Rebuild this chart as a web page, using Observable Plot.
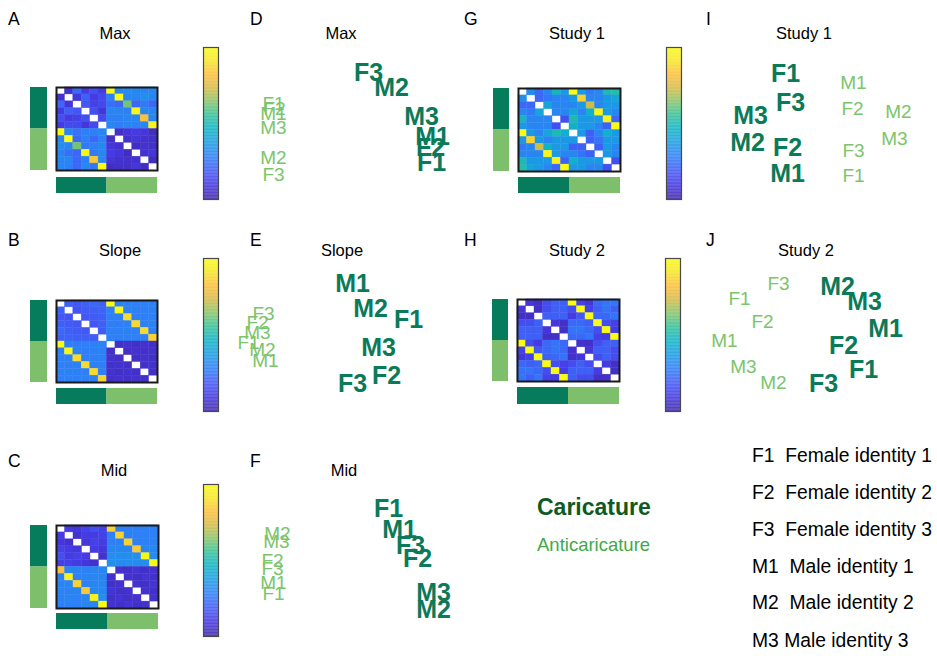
<!DOCTYPE html>
<html><head><meta charset="utf-8">
<script src="https://cdn.jsdelivr.net/npm/d3@7"></script>
<script src="https://cdn.jsdelivr.net/npm/@observablehq/plot@0.6"></script>
<style>
body{margin:0;background:#fff;font-family:Arial,"Liberation Sans",sans-serif;}
#fig{position:relative;width:937px;height:656px;overflow:hidden;background:#fff;}
.txt{position:absolute;white-space:pre;line-height:1;color:#000;}
svg{overflow:visible;}
</style></head><body><div id="fig"></div><script>
// ---------------- data ----------------
const identities = ["F1","F2","F3","M1","M2","M3"];
const conditionNames = ["Caricature","Anticaricature"];
const identityNames = ["Female identity 1","Female identity 2","Female identity 3","Male identity 1","Male identity 2","Male identity 3"];
const panelLetters = ["A","B","C","D","E","F","G","H","I","J"];
const panelTitles = ["Max","Slope","Mid","Max","Slope","Mid","Study 1","Study 2","Study 1","Study 2"];

const maxMatrix = [
 [null,.06,.22,.10,.16,.10, 1.0,.30,.32,.30,.30,.30],
 [.06,null,.08,.20,.10,.14, .28,1.0,.30,.30,.33,.30],
 [.22,.08,null,.18,.12,.14, .24,.22,.62,.22,.26,.22],
 [.10,.20,.18,null,.16,.08, .30,.30,.28,.98,.30,.30],
 [.16,.10,.12,.16,null,.14, .28,.28,.30,.30,.82,.30],
 [.10,.14,.14,.08,.14,null, .30,.28,.30,.28,.30,.98],
 [1.0,.30,.25,.28,.28,.30, null,.05,.08,.10,.08,.04],
 [.30,1.0,.22,.28,.22,.28, .05,null,.06,.08,.06,.05],
 [.32,.30,.62,.26,.28,.30, .08,.06,null,.04,.06,.05],
 [.28,.24,.22,.98,.26,.30, .10,.08,.04,null,.06,.08],
 [.30,.30,.22,.28,.84,.30, .08,.06,.06,.06,null,.04],
 [.30,.28,.22,.30,.26,1.0, .04,.05,.05,.08,.04,null]
];
const slopeMatrix = [
 [null,.20,.18,.20,.22,.20, 1.0,.28,.28,.28,.28,.28],
 [.20,null,.17,.19,.20,.21, .28,.98,.28,.28,.28,.28],
 [.18,.17,null,.18,.19,.20, .28,.28,.88,.28,.28,.28],
 [.20,.19,.18,null,.18,.20, .27,.27,.28,.88,.28,.28],
 [.22,.20,.19,.18,null,.19, .28,.28,.28,.28,.88,.28],
 [.20,.21,.20,.20,.19,null, .28,.28,.28,.28,.28,.86],
 [1.0,.28,.27,.28,.28,.28, null,.05,.06,.05,.06,.05],
 [.28,.98,.28,.27,.28,.28, .05,null,.05,.06,.05,.06],
 [.28,.28,.88,.28,.28,.28, .06,.05,null,.05,.06,.05],
 [.28,.28,.28,.88,.28,.28, .05,.06,.05,null,.05,.06],
 [.28,.28,.28,.28,.88,.28, .06,.05,.06,.05,null,.05],
 [.28,.28,.28,.28,.28,.86, .05,.06,.05,.06,.05,null]
];
const midMatrix = [
 [null,.10,.08,.12,.16,.12, .86,.28,.28,.28,.28,.28],
 [.10,null,.06,.10,.10,.12, .28,.86,.28,.28,.28,.28],
 [.08,.06,null,.08,.12,.10, .28,.28,.86,.28,.28,.28],
 [.12,.10,.08,null,.10,.08, .30,.30,.30,.84,.30,.30],
 [.16,.10,.12,.10,null,.06, .32,.32,.32,.32,.98,.32],
 [.12,.12,.10,.08,.06,null, .32,.32,.32,.32,.32,1.0],
 [.82,.30,.30,.28,.30,.30, null,.06,.05,.07,.05,.06],
 [.28,.95,.28,.30,.30,.30, .06,null,.06,.05,.07,.05],
 [.28,.30,.86,.28,.30,.30, .05,.06,null,.06,.05,.07],
 [.30,.28,.30,.84,.30,.30, .07,.05,.06,null,.06,.05],
 [.28,.30,.28,.30,.96,.32, .05,.07,.05,.06,null,.06],
 [.28,.28,.28,.30,.30,1.0, .06,.05,.07,.05,.06,null]
];
const study1Matrix = [
 [null,.32,.22,.30,.48,.36, 1.0,.36,.26,.30,.50,.52],
 [.32,null,.22,.26,.30,.30, .36,.86,.30,.30,.36,.40],
 [.22,.22,null,.40,.30,.30, .30,.36,.72,.30,.36,.36],
 [.30,.26,.40,null,.30,.30, .40,.30,.45,.98,.36,.30],
 [.48,.30,.30,.30,null,.16, .50,.36,.36,.36,.96,.22],
 [.36,.30,.30,.30,.16,null, .45,.36,.36,.30,.20,1.0],
 [1.0,.36,.30,.40,.50,.45, null,.36,.20,.30,.45,.36],
 [.36,.86,.36,.30,.36,.36, .36,null,.20,.25,.36,.36],
 [.26,.30,.72,.45,.36,.36, .20,.20,null,.20,.36,.30],
 [.30,.30,.30,.98,.36,.30, .30,.25,.20,null,.36,.30],
 [.50,.36,.36,.36,.96,.20, .45,.36,.36,.36,null,.16],
 [.52,.40,.36,.30,.22,1.0, .36,.36,.30,.30,.16,null]
];
const study2Matrix = [
 [null,.08,.05,.15,.20,.20, 1.0,.12,.08,.22,.25,.25],
 [.08,null,.05,.15,.20,.20, .15,1.0,.12,.20,.25,.20],
 [.05,.05,null,.20,.20,.20, .10,.18,1.0,.22,.22,.25],
 [.15,.15,.20,null,.08,.05, .22,.22,.20,1.0,.15,.12],
 [.20,.20,.20,.08,null,.05, .25,.25,.22,.15,1.0,.10],
 [.20,.20,.20,.05,.05,null, .22,.22,.25,.12,.10,1.0],
 [1.0,.15,.10,.22,.25,.22, null,.06,.05,.15,.20,.20],
 [.12,1.0,.18,.22,.25,.22, .06,null,.08,.20,.20,.15],
 [.08,.12,1.0,.20,.22,.25, .05,.08,null,.15,.20,.15],
 [.22,.20,.22,1.0,.15,.12, .15,.20,.15,null,.10,.05],
 [.25,.25,.22,.15,1.0,.10, .20,.20,.20,.10,null,.05],
 [.25,.20,.25,.12,.10,1.0, .20,.15,.15,.05,.05,null]
];

// MDS coordinates (panel units, y downward), order F1,F2,F3,M1,M2,M3
const mdsMaxCarX = [191,190,128,192,151,181], mdsMaxCarY = [112,97,22,86,37,66];
const mdsMaxAntiX = [33,34,33,33,33,33],     mdsMaxAntiY = [53,58,124,63,107,77];
const mdsSlopeCarX = [168,146,112,112,130,138], mdsSlopeCarY = [59,115,123,23,48,87];
const mdsSlopeAntiX = [8,17,23,25,22,17],      mdsSlopeAntiY = [82,62,53,100,89,72];
const mdsMidCarX = [148,177,170,159,193,193],  mdsMidCarY = [28,78,65,49,129,112];
const mdsMidAntiX = [33,32,32,33,37,36],       mdsMidAntiY = [113,80,88,102,53,61];
const mdsS1CarX = [85,87,90,87,47,50],         mdsS1CarY = [23,97,52,123,92,65];
const mdsS1AntiX = [153,152,153,153,198,194],  mdsS1AntiY = [125,58,100,32,61,88];
const mdsS2CarX = [163,143,123,185,137,164],   mdsS2CarY = [109,85,123,68,26,41];
const mdsS2AntiX = [39,62,78,24,73,43],        mdsS2AntiY = [38,61,23,80,122,106];

// ---------------- style ----------------
const PARULA = ["#3e26a8","#4538e0","#4358f5","#2f7ef7","#1b9ae4","#0fb2c8","#2fc09c","#84c46a","#d4ba46","#fcbf3a","#f5e626","#f9fb15"];
const parula = d3.piecewise(d3.interpolateRgb, PARULA);
const BAR_DARK = "#077c5c", BAR_LIGHT = "#7dbf6a";
const TXT_DARK = "#0b7a58", TXT_LIGHT = "#7cc46b";
const FONT = 'Arial, "Liberation Sans", sans-serif';
const fig = document.getElementById("fig");

function put(node, left, top) {
  node.style.position = "absolute"; node.style.left = left + "px"; node.style.top = top + "px";
  fig.appendChild(node);
}
function txt(s, x, cy, size, opts = {}) {
  const d = document.createElement("div");
  d.className = "txt"; d.textContent = s; d.style.fontSize = size + "px";
  if (opts.weight) d.style.fontWeight = opts.weight;
  if (opts.color) d.style.color = opts.color;
  d.style.left = x + "px"; d.style.top = (cy - 0.49 * size) + "px";
  if (opts.center) d.style.transform = "translateX(-50%)";
  fig.appendChild(d);
}

function matrixPlot(M, w, h) {
  const cells = [];
  M.forEach((row, r) => row.forEach((v, c) => { if (v != null) cells.push({r, c, v}); }));
  const idx = d3.range(M.length);
  return Plot.plot({
    width: w + 2, height: h + 2, margin: 1,
    style: {background: "white"},
    x: {type: "band", domain: idx, axis: null, padding: 0, round: false},
    y: {type: "band", domain: idx, axis: null, padding: 0, round: false},
    color: {type: "linear", domain: [0, 1], interpolate: parula},
    marks: [
      Plot.cell(cells, {x: "c", y: "r", fill: "v", stroke: "v", strokeWidth: 0.4, inset: 0}),
      Plot.frame({stroke: "#1a1a1a", strokeWidth: 2})
    ]
  });
}
function groupBar(w, h, vertical) {
  const ch = vertical ? {y: d => d} : {x: d => d};
  return Plot.plot({
    width: w, height: h, margin: 0,
    x: {type: "band", domain: conditionNames, axis: null, padding: 0, round: false},
    y: {type: "band", domain: conditionNames, axis: null, padding: 0, round: false},
    color: {domain: conditionNames, range: [BAR_DARK, BAR_LIGHT]},
    marks: [Plot.cell(conditionNames, {...ch, fill: d => d, inset: 0})]
  });
}
const ramp = d3.range(0, 1, 0.005);
function colorbar(w, h) {
  return Plot.plot({
    width: w + 2, height: h + 2, margin: 1,
    y: {domain: [0, 1], axis: null},
    color: {type: "linear", domain: [0, 1], interpolate: parula},
    marks: [
      Plot.rect(ramp, {y1: d => d, y2: d => Math.min(1, d + 0.0055), fill: d => d}),
      Plot.frame({stroke: "#4a4a4a", strokeWidth: 1.2})
    ]
  });
}
function mdsPlot(w, h, carX, carY, antiX, antiY) {
  const car = identities.map((id, i) => ({id, x: carX[i], y: carY[i]}));
  const anti = identities.map((id, i) => ({id, x: antiX[i], y: antiY[i]}));
  return Plot.plot({
    width: w, height: h, margin: 0,
    style: {fontFamily: FONT, overflow: "visible", background: "transparent"},
    x: {domain: [0, w], axis: null},
    y: {domain: [0, h], reverse: true, axis: null},
    marks: [
      Plot.text(anti, {x: "x", y: "y", text: "id", fill: TXT_LIGHT, fontSize: 19}),
      Plot.text(car, {x: "x", y: "y", text: "id", fill: TXT_DARK, fontSize: 25, fontWeight: "bold"})
    ]
  });
}

// ---------------- matrix panels ----------------
const matPanels = [
  {M: maxMatrix,    lb: [30, 87, 17, 83],  mx: [56, 87, 101, 83],  bb: [56, 177, 101, 16], cb: [203, 47, 15, 152]},
  {M: slopeMatrix,  lb: [30, 300, 17, 82], mx: [56, 300, 101, 82], bb: [56, 388, 101, 16], cb: [203, 258, 15, 153]},
  {M: midMatrix,    lb: [30, 525, 17, 83], mx: [56, 525, 102, 83], bb: [56, 613, 102, 16], cb: [203, 484, 15, 152]},
  {M: study1Matrix, lb: [493, 88, 16, 83], mx: [518, 88, 102, 83], bb: [518, 177, 102, 16], cb: [666, 47, 15, 152]},
  {M: study2Matrix, lb: [492, 299, 16, 82],mx: [517, 299, 102, 82],bb: [517, 387, 102, 17], cb: [665, 258, 15, 153]}
];
for (const p of matPanels) {
  put(groupBar(p.lb[2], p.lb[3], true), p.lb[0], p.lb[1]);
  put(matrixPlot(p.M, p.mx[2], p.mx[3]), p.mx[0] - 1, p.mx[1] - 1);
  put(groupBar(p.bb[2], p.bb[3], false), p.bb[0], p.bb[1]);
  put(colorbar(p.cb[2], p.cb[3]), p.cb[0] - 1, p.cb[1] - 1);
}

// ---------------- MDS panels ----------------
put(mdsPlot(220, 150, mdsMaxCarX, mdsMaxCarY, mdsMaxAntiX, mdsMaxAntiY), 240, 50);
put(mdsPlot(220, 150, mdsSlopeCarX, mdsSlopeCarY, mdsSlopeAntiX, mdsSlopeAntiY), 240, 260);
put(mdsPlot(220, 160, mdsMidCarX, mdsMidCarY, mdsMidAntiX, mdsMidAntiY), 240, 480);
put(mdsPlot(230, 150, mdsS1CarX, mdsS1CarY, mdsS1AntiX, mdsS1AntiY), 700, 50);
put(mdsPlot(220, 150, mdsS2CarX, mdsS2CarY, mdsS2AntiX, mdsS2AntiY), 700, 260);

// ---------------- text ----------------
const letterPos = [[8,20],[8,241],[8,462],[250,20],[250,241],[250,462],[464,20],[464,241],[706,20],[706,241]];
const titlePos = [[115,33],[120,250],[114,470],[341,33],[342,250],[344,470],[577,33],[577,250],[804,33],[806,250]];
panelLetters.forEach((L, i) => txt(L, letterPos[i][0], letterPos[i][1], 17.5));
panelTitles.forEach((t, i) => txt(t, titlePos[i][0], titlePos[i][1], 16.5, {center: true}));

txt(conditionNames[0], 537, 507, 23, {weight: "bold", color: "#0e5a22"});
txt(conditionNames[1], 537, 545, 18.5, {color: "#3faa48"});

const legendY = [455, 492, 529, 566, 602, 640];
const legendSep = ["  ", "  ", "  ", "  ", "  ", " "];
identities.forEach((id, i) => txt(id + legendSep[i] + identityNames[i], 752, legendY[i], 19.3));
</script></body></html>
